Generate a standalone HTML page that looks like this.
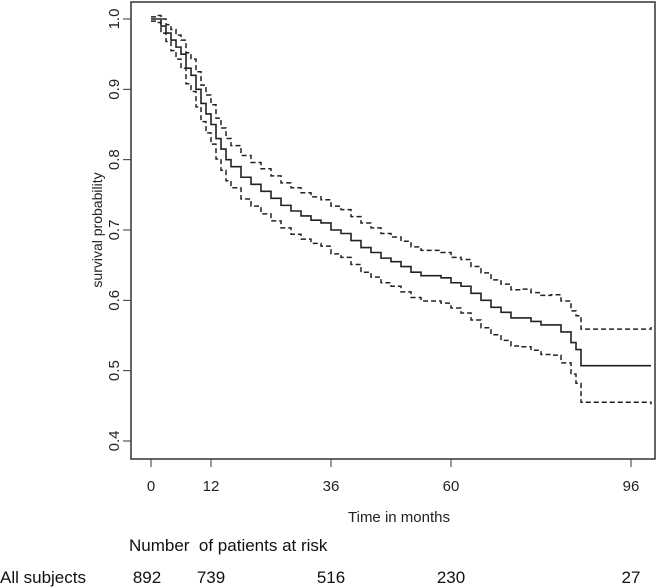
<!DOCTYPE html>
<html><head><meta charset="utf-8"><style>
body{margin:0;background:#fff;width:670px;height:587px;overflow:hidden;font-family:"Liberation Sans",Arial,sans-serif}
svg{display:block}
</style></head><body>
<svg id="chart" width="670" height="587">
<rect x="131" y="2" width="524" height="457" fill="none" stroke="#333" stroke-width="1.5"/>
<g id="axes"></g><g id="curves"></g>
<text x="0" y="0" transform="translate(102,230) rotate(-90)" text-anchor="middle" font-size="14" fill="#222">survival probability</text>
<text x="399" y="522" text-anchor="middle" font-size="15" fill="#222">Time in months</text>
<text x="129" y="551" font-size="17" fill="#111">Number&#160; of patients at risk</text>
<text x="0" y="583" font-size="17" fill="#111">All subjects</text>
<g id="risk"></g>
</svg>
<script>
const xTicks=[0,12,36,60,96];
const yTicks=[0.4,0.5,0.6,0.7,0.8,0.9,1.0];
const riskTimes=[0,12,36,60,96];
const riskCounts=[892,739,516,230,27];
const times=[0,1,2,3,4,5,6,7,8,9,10,11,12,13,14,15,16,18,20,22,24,26,28,30,32,34,36,38,40,42,44,46,48,50,52,54,56,58,60,62,64,66,68,70,72,74,76,78,80,82,84,85,86,100];
const surv=[1,1,.99,.98,.97,.96,.95,.93,.92,.90,.88,.865,.85,.83,.815,.80,.79,.775,.765,.755,.745,.735,.727,.72,.714,.71,.70,.695,.685,.675,.668,.66,.655,.648,.64,.635,.635,.632,.625,.62,.61,.60,.59,.583,.575,.575,.57,.565,.565,.555,.54,.53,.507,.507];
const halfWidth=[.003,.005,.01,.012,.015,.017,.02,.022,.023,.025,.026,.027,.028,.029,.03,.03,.03,.031,.031,.032,.032,.032,.033,.033,.033,.033,.034,.034,.034,.035,.035,.035,.035,.036,.036,.036,.036,.036,.036,.038,.038,.039,.039,.04,.04,.041,.041,.042,.043,.044,.045,.048,.052,.055];
const NS="http://www.w3.org/2000/svg";
const xs=t=>151+t*5;
const ys=v=>19+(1-v)*703.3;
const ax=document.getElementById('axes');
function mk(tag,attrs,parent){const e=document.createElementNS(NS,tag);for(const k in attrs)e.setAttribute(k,attrs[k]);parent.appendChild(e);return e;}
xTicks.forEach(t=>{
  const l=mk('line',{x1:xs(t),x2:xs(t),y1:459,y2:467,stroke:'#333'},ax);
  
  
  const tx=mk('text',{x:xs(t),y:491,'text-anchor':'middle','font-size':15,fill:'#222'},ax);tx.textContent=t;
  
  
});
yTicks.forEach(v=>{
  const l=mk('line',{x1:123,x2:131,y1:ys(v),y2:ys(v),stroke:'#333'},ax);
  
  
  const tx=mk('text',{x:0,y:0,transform:`translate(119,${ys(v)}) rotate(-90)`,'text-anchor':'middle','font-size':15,fill:'#222'},ax);tx.textContent=v.toFixed(1);
  
  
});
function stepPath(vals){let d=`M${xs(times[0])},${ys(vals[0])}`;for(let i=1;i<times.length;i++){d+=`H${xs(times[i])}V${ys(vals[i])}`;}return d;}
const cg=document.getElementById('curves');
const upper=surv.map((s,i)=>s+halfWidth[i]);
const lower=surv.map((s,i)=>s-halfWidth[i]);
const p1=mk('path',{d:stepPath(surv),fill:'none',stroke:'#222','stroke-width':1.6},cg);


const p2=mk('path',{d:stepPath(upper),fill:'none',stroke:'#222','stroke-width':1.5,'stroke-dasharray':'5,3'},cg);


const p3=mk('path',{d:stepPath(lower),fill:'none',stroke:'#222','stroke-width':1.5,'stroke-dasharray':'5,3'},cg);


const rg=document.getElementById('risk');
riskTimes.forEach((t,i)=>{
  const tx=mk('text',{x:xs(t)-(i===0?4:0),y:583,'text-anchor':'middle','font-size':17,fill:'#111'},rg);tx.textContent=riskCounts[i];
  
  
});
</script>
</body></html>
